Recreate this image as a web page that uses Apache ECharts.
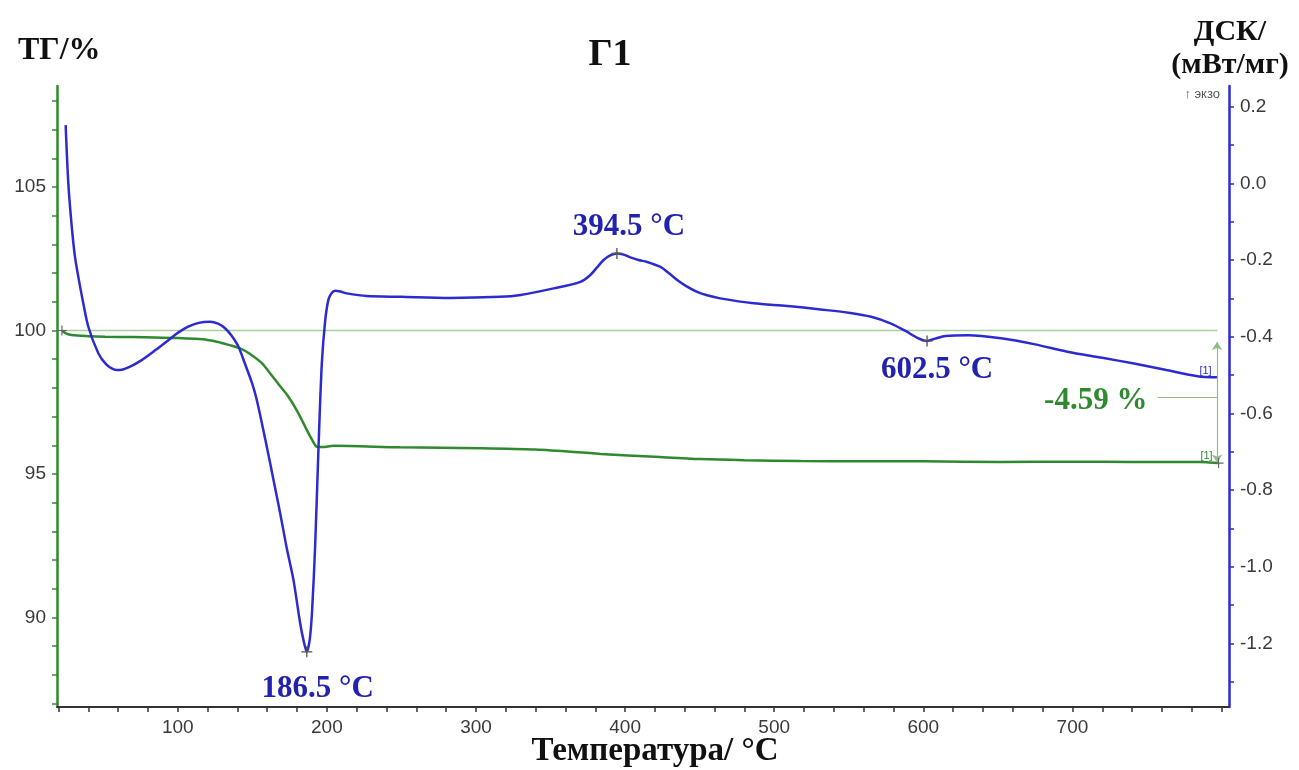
<!DOCTYPE html>
<html>
<head>
<meta charset="utf-8">
<script src="https://cdn.jsdelivr.net/npm/echarts@6/dist/echarts.min.js"></script>
<style>
  html, body { margin: 0; padding: 0; background: #fff; }
  #chart { width: 1299px; height: 770px; }
</style>
</head>
<body>
<div id="chart"></div>
<script>
// DSC curve (mW/mg) vs temperature
var dscTemp = [24.8, 26.6, 28.9, 31, 33.3, 36.5, 40, 46.7, 52, 57, 61.3, 68, 75.8, 85, 93.7, 100, 107, 114, 121.7, 127,
    131.7, 136, 140.7, 145, 149.7, 153, 159.7, 164, 168.7, 173, 177.6, 182.1, 184.5, 186.5, 188.5, 190, 192.1, 194.4,
    196.6, 198.9, 201, 203, 205.6, 209, 213.4, 226.8, 249.2, 282.7, 316.3, 329.9, 352.1, 370, 376.7, 381, 385.6, 390,
    394.5, 399, 403.5, 409, 414.8, 423.7, 429, 434.9, 441, 448.3, 455, 463.8, 486.3, 508.7, 531, 551, 565, 578, 588,
    596, 602.5, 608, 615, 630, 652, 675, 696.6, 720, 741.3, 763, 783.9, 797.3];
var dscValue = [0.152, 0.0, -0.113, -0.19, -0.244, -0.31, -0.374, -0.443, -0.472, -0.485, -0.487, -0.478, -0.461, -0.435,
    -0.409, -0.39, -0.374, -0.364, -0.361, -0.366, -0.378, -0.397, -0.426, -0.47, -0.52, -0.565, -0.687, -0.77, -0.861,
    -0.95, -1.035, -1.148, -1.195, -1.222, -1.19, -1.12, -0.948, -0.687, -0.47, -0.357, -0.304, -0.287, -0.28, -0.282,
    -0.287, -0.294, -0.296, -0.299, -0.296, -0.291, -0.274, -0.257, -0.239, -0.22, -0.2, -0.188, -0.183, -0.186, -0.193,
    -0.2, -0.205, -0.218, -0.233, -0.252, -0.268, -0.283, -0.292, -0.3, -0.313, -0.32, -0.329, -0.338, -0.348, -0.365,
    -0.385, -0.403, -0.411, -0.405, -0.398, -0.396, -0.404, -0.42, -0.439, -0.455, -0.47, -0.487, -0.503, -0.506];

// TG curve (%) vs temperature
var tgTemp = [22.3, 25, 28.9, 40, 51.2, 70, 84.8, 100, 111.6, 120, 127, 134, 141.8, 148, 156.4, 162, 168, 174.2, 180,
    186.6, 190, 193.3, 197, 204.4, 249.2, 303, 340, 383.5, 420, 450.7, 480, 517.7, 560, 600, 652, 700, 740, 786, 792, 798];
var tgValue = [100.0, 99.9, 99.84, 99.8, 99.78, 99.77, 99.76, 99.74, 99.71, 99.67, 99.6, 99.5, 99.38, 99.2, 98.86, 98.5,
    98.1, 97.69, 97.2, 96.53, 96.2, 95.95, 95.94, 95.98, 95.93, 95.9, 95.85, 95.7, 95.6, 95.52, 95.48, 95.45, 95.44,
    95.44, 95.42, 95.43, 95.42, 95.42, 95.4, 95.38];

// TG = 100 % reference line
var baseTemp = [22.3, 797.3];
var baseValue = [100, 100];

// DSC peaks
var peakTemp = [186.5, 394.5, 602.5];
var peakValue = [-1.222, -0.183, -0.411];
var peakLabels = ['186.5 °C', '394.5 °C', '602.5 °C'];

// mass loss
var lossTemp = 797;
var lossTop = 99.6;
var lossBottom = 95.4;
var lossLeaderTemp = 757;
var lossLeaderValue = 97.68;
var lossLabel = '-4.59 %';

// axis ticks / labels
var xLabels = [100, 200, 300, 400, 500, 600, 700];
var xTicks = [20, 40, 60, 80, 100, 120, 140, 160, 180, 200, 220, 240, 260, 280, 300, 320, 340, 360, 380, 400, 420, 440,
    460, 480, 500, 520, 540, 560, 580, 600, 620, 640, 660, 680, 700, 720, 740, 760, 780, 800];
var tgLabels = [90, 95, 100, 105];
var tgTicks = [87, 88, 89, 90, 91, 92, 93, 94, 95, 96, 97, 98, 99, 100, 101, 102, 103, 104, 105, 106, 107, 108];
var dscLabels = [-1.2, -1.0, -0.8, -0.6, -0.4, -0.2, 0.0, 0.2];
var dscTicks = [-1.3, -1.2, -1.1, -1.0, -0.9, -0.8, -0.7, -0.6, -0.5, -0.4, -0.3, -0.2, -0.1, 0.0, 0.1, 0.2];

var GREEN = '#2f8a2f';
var BLUE = '#2b2bd0';
var SERIF = '"Liberation Serif", "Times New Roman", serif';
var SANS = '"Liberation Sans", Arial, sans-serif';

function zip(a, b) {
    var out = [];
    for (var i = 0; i < a.length; i++) out.push([a[i], b[i]]);
    return out;
}

var chart = echarts.init(document.getElementById('chart'));

// label offsets for peak texts (px, relative to the marker)
var peakOffsets = [[11, 37], [12, -27], [10, 29]];
var peakData = [];
for (var i = 0; i < peakTemp.length; i++) {
    peakData.push({
        value: [peakTemp[i], peakValue[i]],
        label: { offset: peakOffsets[i], formatter: peakLabels[i] }
    });
}

var plus = 'path://M0,4.4h10v1.2h-10z M4.4,0h1.2v10h-1.2z';

var option = {
    animation: false,
    backgroundColor: '#fff',
    grid: { left: 57, right: 70, top: 86, bottom: 63 },
    xAxis: {
        type: 'value', min: 19, max: 805,
        axisLine: { onZero: false, lineStyle: { color: '#333', width: 2 } },
        axisTick: { customValues: xTicks, length: 5, lineStyle: { color: '#333', width: 1.5 } },
        axisLabel: { customValues: xLabels, color: '#3a3a3a', fontFamily: SANS, fontSize: 19, margin: 11 },
        splitLine: { show: false }
    },
    yAxis: [{
        type: 'value', position: 'left', min: 86.88, max: 108.52,
        axisLine: { show: true, onZero: false, lineStyle: { color: GREEN, width: 2.5 } },
        axisTick: { show: true, customValues: tgTicks, length: 5, lineStyle: { color: GREEN, width: 1.5 } },
        axisLabel: { customValues: tgLabels, color: '#3a3a3a', fontFamily: SANS, fontSize: 19, margin: 11 },
        splitLine: { show: false }
    }, {
        type: 'value', position: 'right', min: -1.366, max: 0.254,
        axisLine: { show: true, onZero: false, lineStyle: { color: BLUE, width: 2.5 } },
        axisTick: { show: true, customValues: dscTicks, length: 5, lineStyle: { color: BLUE, width: 1.5 } },
        axisLabel: {
            customValues: dscLabels, color: '#3a3a3a', fontFamily: SANS, fontSize: 19, margin: 11,
            formatter: function (v) { return v.toFixed(1); }
        },
        splitLine: { show: false }
    }],
    series: [{
        name: 'baseline', type: 'line', yAxisIndex: 0, data: zip(baseTemp, baseValue),
        symbol: 'none', lineStyle: { color: '#a9cfa0', width: 1.5 }, z: 1
    }, {
        name: 'TG', type: 'line', yAxisIndex: 0, data: zip(tgTemp, tgValue),
        symbol: 'none', smooth: 0.3,
        lineStyle: { color: GREEN, width: 2.5 },
        markPoint: {
            symbol: plus, symbolSize: 10, itemStyle: { color: '#666' }, label: { show: false },
            data: [{ coord: [tgTemp[0], tgValue[0]] }, { coord: [tgTemp[tgTemp.length - 1], tgValue[tgValue.length - 1]] }]
        },
        markLine: {
            silent: true, animation: false,
            lineStyle: { color: '#8fbf86', width: 1.2, type: 'solid' },
            data: [
                [{ coord: [lossTemp, lossTop], symbol: 'arrow', symbolSize: 8 },
                 { coord: [lossTemp, lossBottom], symbol: 'arrow', symbolSize: 8, label: { show: false } }],
                [{ coord: [lossLeaderTemp, lossLeaderValue], symbol: 'none',
                   label: { show: true, position: 'start', formatter: lossLabel, distance: 10, offset: [0, 4],
                            color: GREEN, fontFamily: SERIF, fontWeight: 'bold', fontSize: 31 } },
                 { coord: [lossTemp, lossLeaderValue], symbol: 'none' }]
            ],
            label: { show: false }
        }
    }, {
        name: 'DSC', type: 'line', yAxisIndex: 1, data: zip(dscTemp, dscValue),
        symbol: 'none', smooth: 0.3,
        lineStyle: { color: BLUE, width: 2.5 }, z: 3
    }, {
        name: 'peaks', type: 'scatter', yAxisIndex: 1, data: peakData,
        symbol: plus, symbolSize: 11, itemStyle: { color: '#555', opacity: 1 }, z: 4,
        label: {
            show: true, position: 'inside', color: '#2222b0', fontFamily: SERIF,
            fontWeight: 'bold', fontSize: 31
        }
    }, {
        name: 'ends', type: 'scatter', yAxisIndex: 1,
        data: [[dscTemp[dscTemp.length - 1], dscValue[dscValue.length - 1]]],
        symbolSize: 0, itemStyle: { opacity: 1 },
        label: { show: true, position: 'inside', offset: [-12, -6], formatter: '[1]', color: BLUE, fontSize: 11, fontFamily: SANS }
    }, {
        name: 'ends2', type: 'scatter', yAxisIndex: 0,
        data: [[tgTemp[tgTemp.length - 1], tgValue[tgValue.length - 1]]],
        symbolSize: 0, itemStyle: { opacity: 1 },
        label: { show: true, position: 'inside', offset: [-12, -7], formatter: '[1]', color: GREEN, fontSize: 11, fontFamily: SANS }
    }],
    graphic: [
        { type: 'text', left: 18, top: 35, style: { text: 'ТГ/%', font: 'bold 32px ' + SERIF, fill: '#111' } },
        { type: 'text', x: 610, y: 55, style: { text: 'Г1', font: 'bold 38px ' + SERIF, fill: '#111', textAlign: 'center', textVerticalAlign: 'middle' } },
        { type: 'text', x: 1230, y: 32, style: { text: 'ДСК/', font: 'bold 30px ' + SERIF, fill: '#111', textAlign: 'center', textVerticalAlign: 'middle' } },
        { type: 'text', x: 1230, y: 65, style: { text: '(мВт/мг)', font: 'bold 30px ' + SERIF, fill: '#111', textAlign: 'center', textVerticalAlign: 'middle' } },
        { type: 'text', x: 1220, y: 94, style: { text: '↑ экзо', font: '13px ' + SANS, fill: '#555', textAlign: 'right', textVerticalAlign: 'middle' } },
        { type: 'text', x: 655, y: 751, style: { text: 'Температура/ °С', font: 'bold 33px ' + SERIF, fill: '#111', textAlign: 'center', textVerticalAlign: 'middle' } }
    ]
};

chart.setOption(option);
</script>
</body>
</html>
